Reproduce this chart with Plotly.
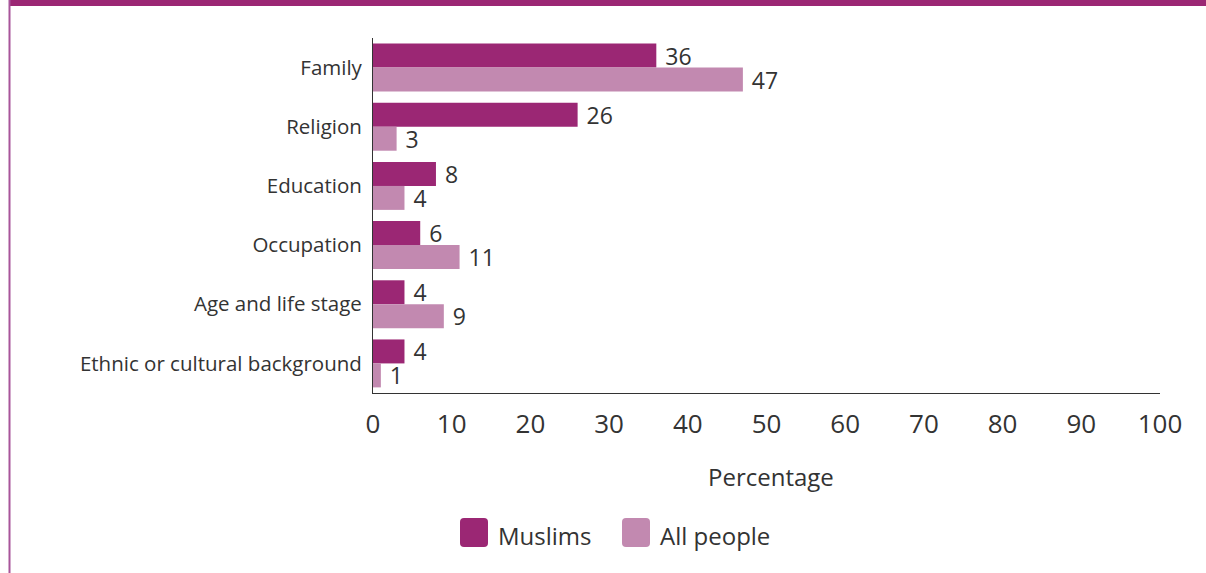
import plotly.graph_objects as go

categories = ["Family", "Religion", "Education", "Occupation",
              "Age and life stage", "Ethnic or cultural background"]
muslims = [36, 26, 8, 6, 4, 4]
all_people = [47, 3, 4, 11, 9, 1]
x_ticks = [0, 10, 20, 30, 40, 50, 60, 70, 80, 90, 100]

DARK = "#9B2774"
LIGHT = "#C289B0"
TEXT = "#333333"
FONT = "Open Sans"

W, H = 1206, 573
L, R, T, B = 373, 46, 38, 180

fig = go.Figure()
for name, vals, col in [("Muslims", muslims, DARK), ("All people", all_people, LIGHT)]:
    fig.add_trace(go.Bar(
        y=categories, x=vals, name=name, orientation="h",
        marker=dict(color=col, line=dict(width=0)),
        text=vals, texttemplate=" %{x}", textposition="outside",
        textfont=dict(size=23, color=TEXT, family=FONT),
        constraintext="none", cliponaxis=False, showlegend=False,
    ))

fig.update_layout(
    width=W, height=H,
    margin=dict(l=L, r=R, t=T, b=B),
    paper_bgcolor="white", plot_bgcolor="white",
    barmode="group", bargap=0.19, bargroupgap=0,
    font=dict(family=FONT, color=TEXT),
)
fig.update_xaxes(
    range=[0, 100], tickvals=x_ticks, showgrid=False, zeroline=False,
    showline=True, linecolor="#333333", linewidth=1,
    ticks="", tickfont=dict(size=26, color=TEXT, family=FONT),
    ticklabelstandoff=8,
)
fig.update_yaxes(
    autorange="reversed", showgrid=False, zeroline=False,
    showline=True, linecolor="#333333", linewidth=1,
    ticks="", tickfont=dict(size=20.5, color=TEXT, family=FONT),
    ticklabelstandoff=6,
)

pw, ph = W - L - R, H - T - B
def px_x(x):
    return (x - L) / pw
def px_y(y):
    return (H - B - y) / ph

# Axis title
fig.add_annotation(xref="paper", yref="paper", x=px_x(771), y=px_y(477),
                   text="Percentage", showarrow=False, xanchor="center", yanchor="middle",
                   font=dict(size=24, color=TEXT, family=FONT))

# Page frame: top band and left rule
fig.add_shape(type="rect", xref="paper", yref="paper",
              x0=px_x(9), x1=px_x(W), y0=px_y(6), y1=px_y(0),
              fillcolor=DARK, line=dict(width=0), layer="above")
fig.add_shape(type="line", xref="paper", yref="paper",
              x0=px_x(9.5), x1=px_x(9.5), y0=px_y(H), y1=px_y(0),
              line=dict(color="#A8559A", width=2), layer="above")

# Legend with rounded swatches
for sx, label, col in [(460, "Muslims", DARK), (622, "All people", LIGHT)]:
    x0, x1 = px_x(sx), px_x(sx + 28)
    y0, y1 = px_y(547), px_y(518)
    rx, ry = 4 / pw, 4 / ph
    fig.add_shape(type="path", xref="paper", yref="paper",
                  path=(f"M {x0 + rx},{y0} L {x1 - rx},{y0} Q {x1},{y0} {x1},{y0 + ry} "
                        f"L {x1},{y1 - ry} Q {x1},{y1} {x1 - rx},{y1} L {x0 + rx},{y1} "
                        f"Q {x0},{y1} {x0},{y1 - ry} L {x0},{y0 + ry} Q {x0},{y0} {x0 + rx},{y0} Z"),
                  fillcolor=col, line=dict(width=0))
    fig.add_annotation(xref="paper", yref="paper", x=px_x(sx + 36), y=px_y(535),
                       text=label, showarrow=False, xanchor="left", yanchor="middle",
                       font=dict(size=24, color=TEXT, family=FONT))

fig.write_html("out.html")
